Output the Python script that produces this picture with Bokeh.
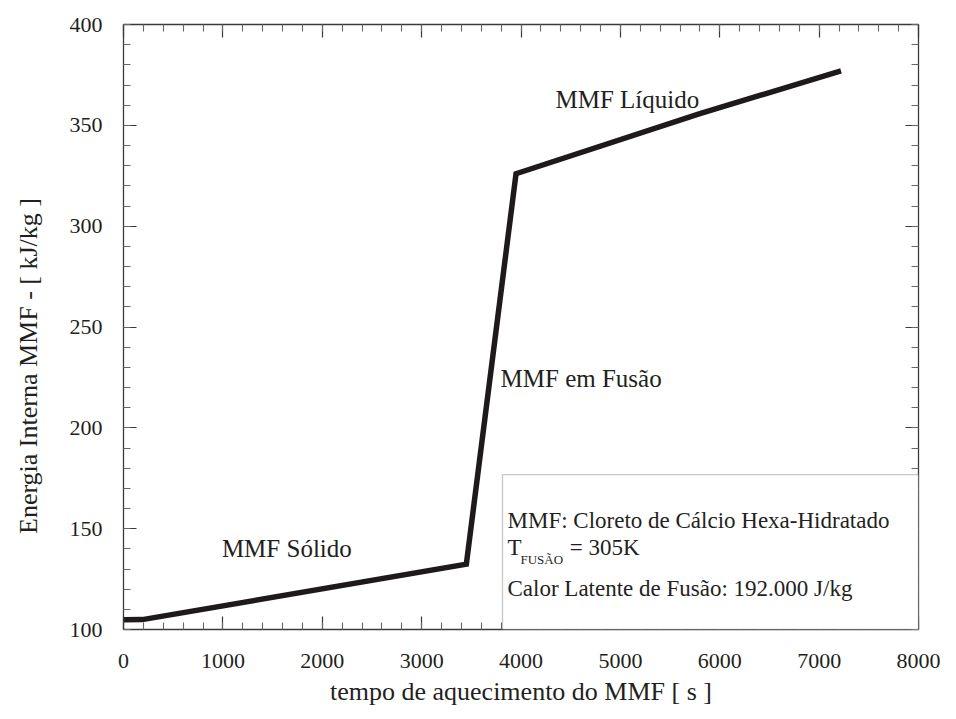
from bokeh.plotting import figure
from bokeh.models import (Range1d, LinearAxis, SingleIntervalTicker, Label,
                          BoxAnnotation, ColumnDataSource, CustomJSTickFormatter)
from bokeh.embed import file_html
from bokeh.resources import INLINE

# ---- data ----
time_s = [0, 190, 3450, 3950, 5800, 7220]
energy_kj = [104.8, 104.9, 132.4, 326.0, 355.8, 377.0]

x_start, x_end = 0, 8000
y_start, y_end = 100, 400
x_major, y_major = 1000, 50

phase_labels = ["MMF Sólido", "MMF em Fusão", "MMF Líquido"]
box_line1 = "MMF: Cloreto de Cálcio Hexa-Hidratado"
box_line2_main = "T"
box_line2_sub = "FUSÃO"
box_line2_rest = "= 305K"
box_line3 = "Calor Latente de Fusão: 192.000 J/kg"

x_title = "tempo de aquecimento do MMF [ s ]"
y_title = "Energia Interna MMF - [  kJ/kg  ]" + "\u00a0" * 10

FONT = "Liberation Serif"
TXT = "#231f20"
AX = "#3a3a3a"

p = figure(width=956, height=719, output_backend="svg", toolbar_location=None,
           x_range=Range1d(x_start, x_end), y_range=Range1d(y_start, y_end),
           x_axis_location=None, y_axis_location=None,
           min_border_left=123, min_border_right=38, min_border_top=24,
           min_border_bottom=90)
p.background_fill_color = "white"
p.border_fill_color = "white"
p.outline_line_color = None
p.xgrid.visible = False
p.ygrid.visible = False


def style_axis(ax, labels=True):
    ax.axis_line_color = AX
    ax.axis_line_width = 1.3
    ax.major_tick_line_color = AX
    ax.minor_tick_line_color = "#666666"
    ax.major_tick_line_width = 1.2
    ax.minor_tick_line_width = 1.1
    ax.major_tick_in = 13
    ax.major_tick_out = 0
    ax.minor_tick_in = 7
    ax.minor_tick_out = 0
    if labels:
        ax.major_label_text_font = FONT
        ax.major_label_text_font_size = "22px"
        ax.major_label_text_color = TXT
        ax.axis_label_text_font = FONT
        ax.axis_label_text_font_style = "normal"
        ax.axis_label_text_color = TXT
    else:
        ax.formatter = CustomJSTickFormatter(code="return ''")
        ax.major_label_text_font_size = "10px"
        ax.major_label_standoff = 0


xt = SingleIntervalTicker(interval=x_major, num_minor_ticks=5)
yt = SingleIntervalTicker(interval=y_major, num_minor_ticks=5)

xb = LinearAxis(ticker=xt, axis_label=x_title)
style_axis(xb)
xb.major_label_standoff = 24
xb.axis_label_standoff = 6
xb.axis_label_text_font_size = "26px"
p.add_layout(xb, "below")

yl = LinearAxis(ticker=yt, axis_label=y_title)
style_axis(yl)
yl.major_label_standoff = 21
yl.axis_label_standoff = 24
yl.axis_label_text_font_size = "26px"
p.add_layout(yl, "left")

xa = LinearAxis(ticker=SingleIntervalTicker(interval=x_major, num_minor_ticks=5))
style_axis(xa, labels=False)
p.add_layout(xa, "above")

yr = LinearAxis(ticker=SingleIntervalTicker(interval=y_major, num_minor_ticks=5))
style_axis(yr, labels=False)
p.add_layout(yr, "right")

src = ColumnDataSource(dict(t=time_s, e=energy_kj))
p.line("t", "e", source=src, line_color="#1e1a1a", line_width=5.5,
       line_join="miter")

# info box (white, covers ticks)
box = BoxAnnotation(left=3814, top=176.8, fill_color="white", fill_alpha=1.0,
                    line_color="#444444", line_width=1.3, level="overlay")
p.add_layout(box)


def lab(x, y, text, size, lvl="overlay"):
    lb = Label(x=x, y=y, text=text, text_font=FONT, text_font_size=size,
               text_color=TXT, text_baseline="alphabetic", text_align="left",
               level=lvl)
    p.add_layout(lb)


lab(990, 140.2, phase_labels[0], "25px")
lab(3794, 224.5, phase_labels[1], "25px")
lab(4347, 362.8, phase_labels[2], "25px")

lab(3864, 154.0, box_line1, "23px")
lab(3864, 140.7, box_line2_main, "23px")
lab(3995, 134.7, box_line2_sub, "13px")
lab(4490, 140.7, box_line2_rest, "23px")
lab(3864, 120.3, box_line3, "23px")

open("out.html", "w").write(file_html(p, INLINE))
